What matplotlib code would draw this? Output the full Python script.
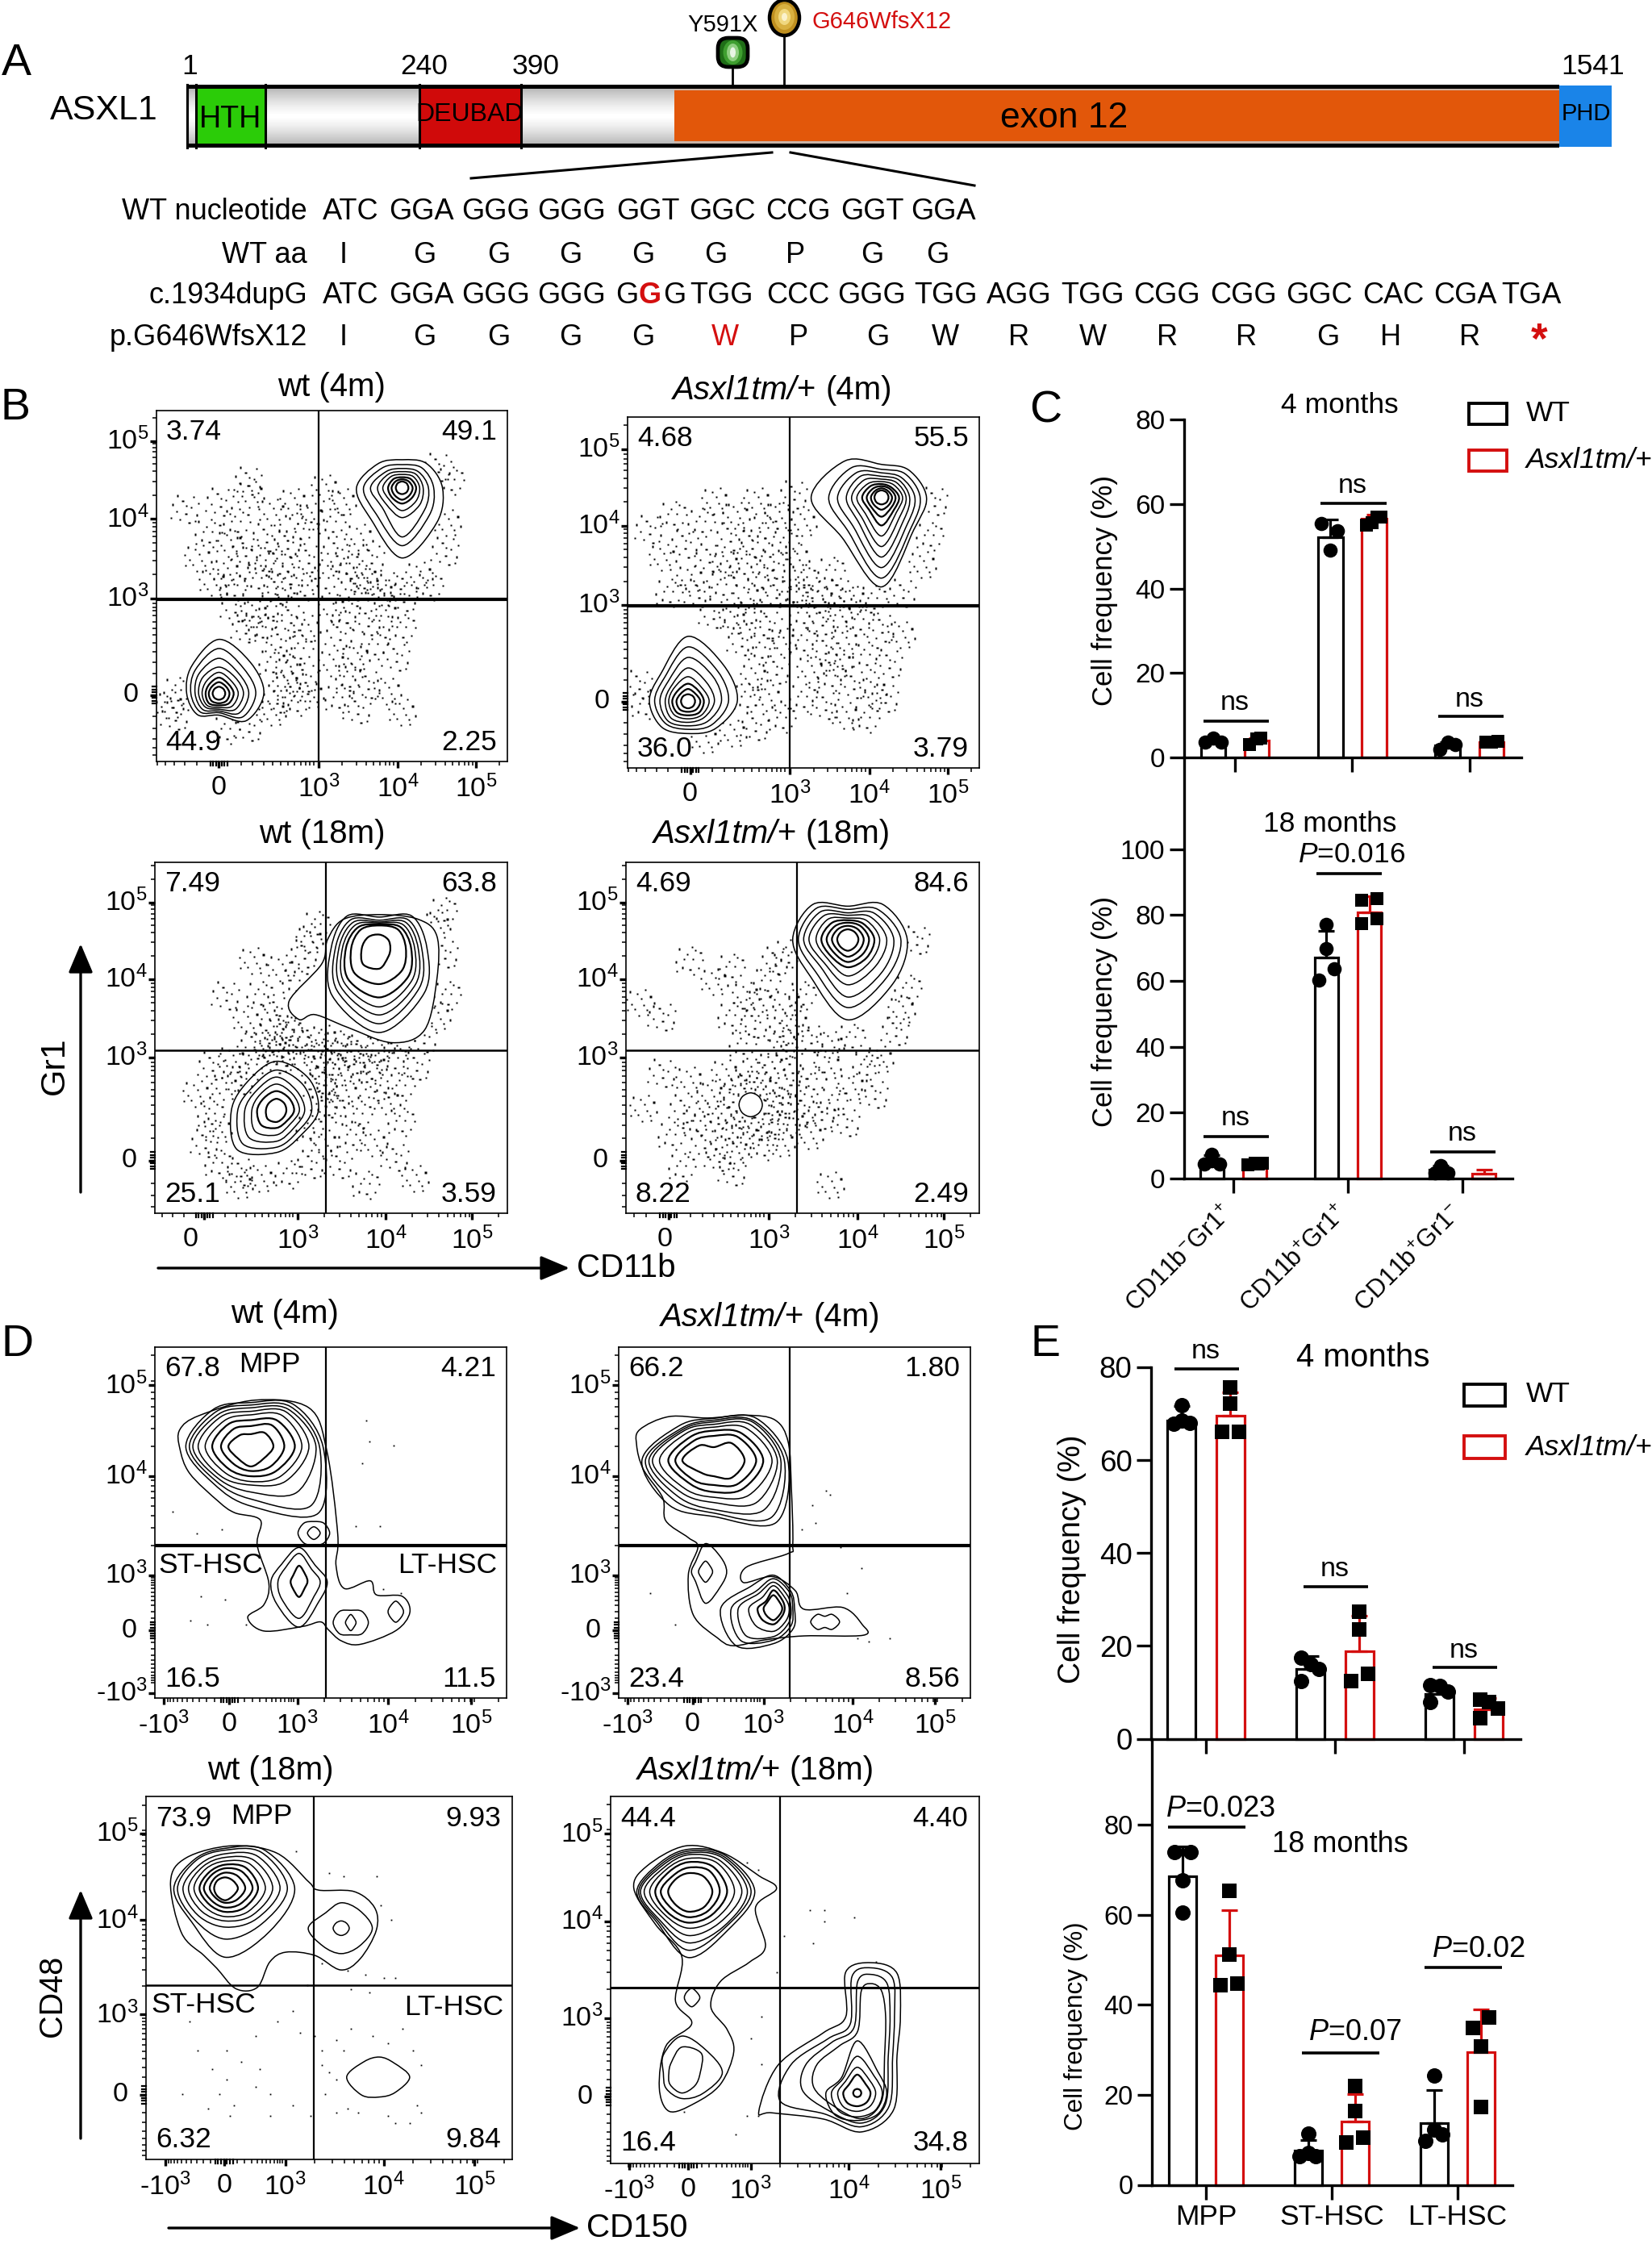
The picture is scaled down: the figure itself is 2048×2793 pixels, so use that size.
import numpy as np
import matplotlib
matplotlib.use('Agg')
import matplotlib.pyplot as plt
from matplotlib.path import Path
from matplotlib.patches import PathPatch, Rectangle, Ellipse, FancyBboxPatch

plt.rcParams['font.family'] = ['Liberation Sans', 'DejaVu Sans']
plt.rcParams['mathtext.fontset'] = 'custom'
plt.rcParams['mathtext.rm'] = 'Liberation Sans'
plt.rcParams['mathtext.it'] = 'Liberation Sans:italic'
plt.rcParams['mathtext.default'] = 'regular'

W, H = 2048, 2793
RED = '#d40f0f'
ASXL = 'Asxl1tm/+'

# ---- panel A text
ROW1 = ['ATC', 'GGA', 'GGG', 'GGG', 'GGT', 'GGC', 'CCG', 'GGT', 'GGA']
ROW1_X = [435, 522, 614, 709, 803, 895, 989, 1081, 1169]
ROW2 = ['I', 'G', 'G', 'G', 'G', 'G', 'P', 'G', 'G']
ROW2_X = [426, 526, 618, 707, 797, 887, 986, 1081, 1162]
ROW3 = ['ATC', 'GGA', 'GGG', 'GGG', 'G', 'G', 'G', 'TGG', 'CCC', 'GGG', 'TGG', 'AGG', 'TGG', 'CGG', 'CGG', 'GGC', 'CAC', 'CGA', 'TGA']
ROW3_X = [435, 522, 614, 709, 777, 806, 836, 895, 989, 1081, 1173, 1263, 1355, 1446, 1541, 1635, 1727, 1816, 1898]
ROW4 = ['I', 'G', 'G', 'G', 'G', 'W', 'P', 'G', 'W', 'R', 'W', 'R', 'R', 'G', 'H', 'R', '*']
ROW4_X = [426, 526, 618, 707, 797, 899, 990, 1088, 1172, 1263, 1355, 1447, 1545, 1646, 1724, 1822, 1908]
ROW_NAMES = ['WT nucleotide', 'WT aa', 'c.1934dupG', 'p.G646WfsX12']

# ---- panels C and E: means, upper error ends, points and their x offsets
C4_WT = [4.0, 52.2, 2.9]
C4_WT_ERR = [4.6, 56.3, 3.6]
C4_WT_PTS = [[3.6, 4.6, 3.6], [55.4, 53.6, 49.1], [2.0, 3.6, 3.1]]
C4_WT_DX = [[-.07, 0, .07], [-.077, .063, 0], [-.066, 0, .063]]
C4_MUT = [4.0, 56.5, 3.6]
C4_MUT_ERR = [4.6, 57.5, 3.9]
C4_MUT_PTS = [[3.1, 4.6, 4.3], [54.9, 55.5, 56.9, 56.9], [3.6, 3.6, 3.8]]
C4_MUT_DX = [[-.06, .03, 0], [-.07, -.02, .02, .06], [-.05, 0, .056]]

C18_WT = [5.3, 67.2, 2.6]
C18_WT_ERR = [7.2, 75.3, 3.8]
C18_WT_PTS = [[4.3, 7.4, 4.3, 5.4], [77.3, 69.8, 63.8, 60.3], [1.8, 3.8, 1.8, 2.0]]
C18_WT_DX = [[-.065, 0, .07, 0], [0, 0, .068, -.068], [-.054, 0, .06, 0]]
C18_MUT = [4.4, 80.9, 1.5]
C18_MUT_ERR = [4.7, 85.8, 2.6]
C18_MUT_PTS = [[4.1, 4.6, 4.6, 4.3], [84.5, 85.0, 77.5, 79.0], []]
C18_MUT_DX = [[-.06, 0, .065, .03], [-.068, .068, -.068, .068], []]
C_CATS = ['CD11b$^{-}$Gr1$^{+}$', 'CD11b$^{+}$Gr1$^{+}$', 'CD11b$^{+}$Gr1$^{-}$']

E4_WT = [68.6, 15.0, 9.7]
E4_WT_ERR = [71.6, 17.8, 11.5]
E4_WT_PTS = [[67.9, 68.0, 71.9, 68.6], [17.5, 16.0, 15.1, 12.4], [11.6, 11.3, 10.1, 7.9]]
E4_WT_DX = [[-.06, .067, 0, 0], [-.07, 0, .064, -.07], [-.07, 0, .067, -.07]]
E4_MUT = [69.5, 18.8, 6.3]
E4_MUT_ERR = [74.7, 26.5, 8.7]
E4_MUT_PTS = [[75.7, 72.1, 66.1, 66.1], [27.3, 23.5, 12.5, 13.9], [8.5, 7.9, 6.5, 4.4]]
E4_MUT_DX = [[0, 0, -.067, .067], [0, 0, -.064, .067], [-.064, .006, .07, -.064]]

E18_WT = [68.6, 7.7, 13.7]
E18_WT_ERR = [75.2, 10.0, 21.0]
E18_WT_PTS = [[73.9, 73.9, 67.7, 60.4], [11.3, 6.3, 6.4, 7.1], [24.3, 9.7, 12.2, 11.2]]
E18_WT_DX = [[-.065, .065, 0, 0], [0, -.069, .06, 0], [0, -.069, 0, .065]]
E18_MUT = [50.9, 14.0, 29.4]
E18_MUT_ERR = [61.1, 20.2, 39.0]
E18_MUT_PTS = [[65.3, 51.1, 44.4, 44.8], [21.9, 16.4, 9.4, 10.4], [34.8, 37.1, 30.8, 17.3]]
E18_MUT_DX = [[0, 0, -.069, .062], [0, 0, -.069, .065], [-.065, .065, 0, 0]]
E_CATS = ['MPP', 'ST-HSC', 'LT-HSC']

# ---- flow plots: everything below is in channel units, 0-100 across each plot.
# Contours read by eye: (centre, rows of radii at 0,45,...,315 degrees)
B1_POPS = [((70, 78), [[11.5, 9.8, 8, 9.7, 13, 12.6, 20, 14], [9, 8, 6.6, 8, 11, 10.5, 16.5, 11],
                       [7.5, 6.5, 5.5, 6.5, 9, 8, 14, 9], [6, 5.5, 4.6, 5.5, 7, 6.5, 8.5, 7],
                       [5, 4.5, 3.8, 4.5, 5.5, 5, 6.5, 5.5], [4, 3.5, 3, 3.5, 4, 4, 4.5, 4],
                       [3, 2.6, 2.4, 2.6, 3, 3, 3.4, 3], [1.8, 1.8, 1.8, 1.8, 1.8, 1.8, 1.8, 1.8]]),
           ((17.8, 19.4), [[12.8, 12.6, 15.4, 11, 9.2, 8.6, 6.2, 11], [10.5, 10, 12.8, 9.5, 8, 7.5, 5.5, 9.5],
                           [8.5, 8, 10, 8, 6.8, 6.5, 5, 8], [7, 6.5, 7.5, 6.5, 5.8, 5.5, 4.5, 6.5],
                           [5.5, 5, 6, 5, 4.8, 4.8, 4, 5.2], [4.2, 3.8, 4.5, 3.8, 3.8, 4, 3.4, 4],
                           [3, 2.8, 3.2, 2.8, 2.9, 3, 2.8, 3], [1.8, 1.8, 1.9, 1.8, 1.8, 1.8, 1.8, 1.8]])]
B2_POPS = [((72.2, 77.1), [[12.8, 11, 9.4, 14.7, 20, 16, 25.5, 13], [11, 9.5, 8, 12, 15, 13.5, 23, 12],
                           [9.5, 8, 7, 10, 12.5, 11.5, 20, 10.5], [8, 7, 6, 8.5, 10, 9.5, 17, 9],
                           [7, 6, 5.2, 7, 8.5, 8, 14, 7.5], [6, 5, 4.5, 5.5, 7, 6.5, 11, 6],
                           [5, 4, 3.8, 4.5, 5.5, 5, 8, 5], [4, 3.4, 3.2, 3.5, 4.2, 4, 5.5, 4],
                           [3, 2.6, 2.6, 2.6, 3, 3, 3.5, 3], [2, 2, 2, 2, 2, 2, 2, 2]]),
           ((17.2, 19), [[14, 14.4, 18.5, 11, 11, 10.5, 9.2, 11], [11.5, 12, 15.5, 9.5, 9.5, 9, 8, 9.5],
                         [9.5, 10, 12.5, 8, 8, 8, 7, 8], [7.5, 7.5, 9.5, 6.5, 6.5, 6.8, 6, 6.5],
                         [6, 5.5, 7, 5.5, 5.5, 5.5, 5, 5.5], [4.5, 4.2, 5, 4.2, 4.5, 4.5, 4, 4.5],
                         [3.5, 3, 3.5, 3, 3.3, 3.3, 3, 3.3], [2, 2, 2, 2, 2, 2, 2, 2]])]
B3_BLOBS = [[(47.3, 71), (38.1, 60.5), (40.9, 55.2), (45.4, 56.6), (54.6, 53), (67.3, 48.6), (76.5, 52.2),
             (80, 66.7), (80, 79), (74.6, 83.8), (63.7, 85.1), (53.6, 83.8), (49, 78)]]
B3_POPS = [((63.7, 75.5), [[13.5, 13, 8.9, 13, 13.7, 19, 24, 18], [12, 11.5, 8, 11.5, 12.5, 17, 21.5, 16],
                           [11, 10.5, 7.5, 10.5, 11.5, 15.5, 19, 14.5], [10, 9.5, 7.2, 9.5, 10.5, 14, 16.7, 13],
                           [9, 8.5, 6.8, 8.5, 9.5, 12.5, 14, 11.5], [7.5, 7.5, 6.5, 7.5, 8, 10, 10.2, 9],
                           [3.1, 3.5, 3.9, 4.5, 5, 6.5, 5.8, 3.5]]),
           ((34.5, 29.3), [[11.9, 12.9, 14, 11.6, 12.8, 15.8, 12, 9.9], [10, 10.5, 11.5, 9.5, 11, 13.5, 10.5, 8.5],
                           [8, 8, 9.5, 8, 9, 11, 8.8, 7], [6.5, 6.5, 7.5, 6.5, 7, 8.5, 7, 5.5],
                           [5, 5, 5.5, 5, 5.5, 6, 5, 4.2], [2.8, 3, 3.3, 3, 3, 3.5, 3.3, 2.8]])]
B4_POPS = [((62.8, 78.1), [[16.8, 14, 9.4, 14, 15.6, 15, 23, 18], [15, 12, 8.5, 12.5, 14, 13, 19.5, 15.5],
                           [13, 10.5, 7.5, 11, 12.5, 11, 16.5, 13.5], [11, 9, 6.8, 9.5, 11, 9.5, 13, 11],
                           [9, 7.5, 6, 8, 9, 8, 10.5, 9], [7.5, 6.2, 5.4, 6.5, 7.5, 6.8, 8, 7.5],
                           [6, 5.2, 4.7, 5.2, 6, 5.5, 6.5, 6], [4.5, 4, 3.8, 4, 4.5, 4.2, 5, 4.5],
                           [3, 2.8, 2.8, 2.8, 3, 3, 3.3, 3]]),
           ((35.3, 30.9), [[3.3, 3.3, 3.4, 3.3, 3.3, 3.3, 3.4, 3.3]])]
D1_BLOBS = [[(7.1, 76.5), (12.6, 80.5), (28.5, 84.9), (43.8, 82.7), (48.9, 70.4), (52, 46.6), (51.5, 37.8), (53.9, 31.2),
             (61.2, 33.4), (63, 29.4), (70.3, 29), (72.5, 24.4), (68.5, 19.2), (58.4, 15.3), (53, 16.3), (49.3, 19.5),
             (47.1, 21.7), (42, 20.4), (31, 19.1), (26.4, 23), (31, 26.6), (32.4, 32.8), (29.1, 43.6), (30, 50.7),
             (22.7, 52.8), (18.1, 56), (9.9, 64), (7.1, 71.1)]]
D1_POPS = [((27.3, 71.7), [[20.5, 17, 12.5, 15, 18.5, 15, 17, 27], [19.5, 16, 11.8, 14, 17.5, 14, 15, 24],
                           [18.5, 15, 11, 13, 16.5, 13, 13, 18.5], [16.5, 14, 10, 12, 15, 12, 11, 14],
                           [14.5, 12.5, 9, 10.5, 13, 10.5, 10, 12], [12.5, 10.5, 7.5, 9, 11, 9, 8.5, 10],
                           [9.5, 8.5, 5.8, 7, 8.5, 7, 7, 8], [6.4, 5.5, 3.5, 4.5, 6.4, 5, 5.7, 5]]),
           ((45.2, 47), [[4.5, 4, 3.3, 4, 4.5, 4, 3.5, 4], [1.8, 1.6, 1.8, 1.6, 1.8, 1.6, 1.8, 1.6]]),
           ((41, 33.2), [[8, 6.5, 9.7, 7, 8, 9, 13, 8], [6, 5, 8, 5.5, 6, 7, 10.5, 6],
                         [2.4, 2.6, 4.5, 2.4, 2.4, 2.6, 4.4, 2.4]]),
           ((55.7, 21.5), [[5, 4.5, 3.5, 4.5, 5, 4.5, 3.5, 4.5], [1.5, 1.5, 2.3, 1.5, 1.5, 1.5, 2.3, 1.5]]),
           ((68.5, 24.6), [[2.2, 2.2, 3, 2.2, 2.2, 2.2, 3, 2.2]])]
D2_BLOBS = [[(6, 76.5), (14.3, 80.2), (25.3, 79.8), (36.3, 80.6), (44.5, 79.2), (48.2, 72.9), (49.1, 59.8), (49.5, 43.9),
             (48.2, 41.2), (36.3, 37.3), (35.5, 32.9), (43.8, 34.6), (50.2, 30.6), (52.7, 25.3), (63.7, 25.8), (69.2, 21),
             (69.6, 17.9), (52.7, 17.7), (41.8, 16.6), (32.6, 14.9), (28, 17.2), (21.2, 23.7), (19.8, 35.1), (22.5, 43),
             (19.8, 45.7), (13.4, 50.5), (12.5, 57.1), (7, 65.2), (5.1, 72.1)]]
D2_POPS = [((27.1, 67.7), [[21, 17, 12, 14, 20.5, 18, 16, 25], [20, 16, 11.5, 13, 19.5, 16, 15, 23],
                           [19, 15.5, 11, 12.5, 18.5, 14.5, 14, 20], [18, 14.5, 10.3, 12, 17.5, 13, 12, 17],
                           [16.5, 13, 9.5, 11, 15.5, 11.5, 10.5, 14], [14, 11, 8.5, 9.5, 13, 9.5, 9, 11.5],
                           [12, 9.5, 7, 8, 11, 8, 7, 9.5], [8.7, 7, 3.8, 6, 9, 5, 4.5, 7]]),
           ((24.7, 36), [[6, 6, 8, 4, 4, 4, 9, 6], [2, 2, 3, 2, 2, 2, 3, 2]]),
           ((44, 25.5), [[6, 7, 9.5, 9, 15, 15, 10, 8], [5.5, 6.5, 8.5, 7, 12, 13, 9, 7],
                         [5, 5.5, 7.5, 6, 10, 11, 8, 6], [4.5, 4.5, 6.5, 4.5, 7, 7, 6.5, 5],
                         [3.2, 3.5, 5.2, 3, 4.5, 4.5, 4.5, 3.3], [2.5, 2.5, 3.8, 2.5, 2.8, 2.8, 3.3, 2.5]]),
           ((58.6, 21.7), [[4.2, 3, 1.6, 3, 4, 3, 1.6, 3]])]
D3_BLOBS = [[(6.7, 76.5), (11, 83.1), (23.4, 86.4), (35.7, 84.4), (44.5, 76.4), (47.1, 74.2), (56.8, 73.8), (62.4, 69.4),
             (62.9, 63.2), (58.5, 55.3), (53.2, 52.2), (46.1, 56.2), (38.2, 57.1), (33.8, 54.4), (30.4, 47.4), (24.6, 47),
             (19.3, 52.7), (15.8, 56.2), (9.7, 62.4)]]
D3_POPS = [((21.6, 74.7), [[19, 15, 11, 11.5, 14, 13, 19, 17], [17, 14, 10.5, 11, 13, 12, 14, 14],
                           [15, 12.5, 9.5, 9.5, 11.5, 10.5, 10.7, 12], [13, 11, 8.5, 8.5, 10, 9, 9, 10.5],
                           [11, 9.5, 7.5, 7.5, 8.5, 7.5, 7.8, 9], [9, 8, 6.5, 6.2, 7, 6.2, 6.5, 7.5],
                           [7.5, 6.5, 5.5, 5.2, 5.8, 5, 5.3, 6], [5.5, 4.8, 4.3, 4, 4.2, 3.7, 4, 4.5],
                           [3.5, 3, 3, 3, 3, 3, 3.3, 3]]),
           ((53.3, 63.7), [[8.5, 7, 7, 6, 9, 7, 7, 7], [2.2, 2, 2, 2, 2.2, 2, 2, 2]]),
           ((63.8, 22.7), [[8.2, 5.5, 5.5, 6, 9, 7, 5.5, 6]])]
D4_BLOBS = [[(6.3, 74.9), (9.8, 81), (20.2, 86.5), (30.7, 84.5), (40.2, 78.4), (45, 74.9), (39.3, 69.7), (42, 59.2),
             (37.6, 54.8), (29.8, 49.6), (27.2, 42.6), (31.6, 36.5), (33.4, 30.4), (29.8, 21.6), (22.8, 16.4), (15.9, 14.2),
             (13.2, 20.7), (15, 32), (22, 38.1), (17.6, 44.2), (19.3, 56.4), (12.2, 65.1)],
            [(40.2, 14.2), (45.5, 26.9), (57.7, 35.6), (63.8, 40), (63.8, 52.2), (70.7, 54.7), (77.7, 51.8), (78.6, 40),
             (77.7, 29.5), (76.8, 14.7), (68.1, 8.6), (57.7, 12.1), (43.7, 13.8)],
            [(46, 17), (49, 27), (59, 34), (65, 38), (65.5, 51), (70.7, 53.3), (76.5, 50.5), (77, 40), (76.5, 29), (75.5, 15.5), (68, 10), (58, 13.5)],
            [(52, 20), (53, 27), (60, 33), (66, 37), (67, 49.5), (70.7, 51.5), (75, 49), (75.8, 40), (75.3, 29), (74.5, 16), (68, 11), (59, 14.5)],
            [(55, 21), (56, 27), (62, 32), (67, 36), (68, 47), (70.7, 49), (73.5, 47), (74.6, 40), (74.3, 29), (73.5, 17), (68, 12.2), (60, 16)]]
D4_POPS = [((21.1, 74.1), [[18, 14, 11.5, 11, 14, 12, 18, 15], [17, 13.5, 11, 10.5, 13.5, 11.5, 16, 14],
                           [16, 13, 10.5, 10, 13, 11, 14, 13.5], [14.5, 12, 10, 9.3, 12, 10, 12, 12],
                           [12.5, 11, 9, 8.5, 10.5, 9, 10, 10.5], [10.5, 9.5, 8, 7.5, 9, 8, 8.5, 9],
                           [8.5, 8, 6.5, 6, 7.5, 6.5, 7, 7.5], [6.5, 5.8, 5, 4.8, 5.5, 5, 5.5, 6]]),
           ((22, 45.2), [[2.2, 2, 2.5, 2, 2, 2, 2.5, 2]]),
           ((19.3, 24.7), [[11, 9, 10, 7, 5, 6, 7, 8], [5, 7.5, 7, 4, 3.5, 4.5, 5.5, 5]]),
           ((66.9, 19.2), [[8, 8, 14.2, 6, 8.5, 8.5, 7.5, 8], [6.8, 6.5, 10, 5.5, 7, 7, 6.5, 6.8],
                           [5, 4.8, 7, 4.5, 5.3, 5.3, 5, 5], [3.6, 3.3, 5, 3.2, 3.8, 3.8, 3.6, 3.6],
                           [1.1, 1.1, 1.1, 1.1, 1.1, 1.1, 1.1, 1.1]])]

# Event clouds in B: a hand-read sample, each point is drawn as a small clump of specks
B1_CLOUD = [(8, 72), (12, 58), (15, 65), (18, 74), (20, 54), (23, 68), (25, 60), (27, 76), (29, 52), (31, 64), (33, 71), (35, 56),
            (37, 62), (39, 74), (41, 66), (43, 58), (44, 70), (22, 50), (34, 49), (16, 51), (42, 50), (26, 80), (21, 62), (30, 57),
            (38, 52), (48, 78), (50, 68), (51, 60), (53, 74), (54, 56), (56, 50), (58, 64), (59, 52), (61, 58), (64, 48), (67, 50),
            (70, 47), (75, 53), (78, 50), (82, 60), (83, 68), (84, 80), (80, 84), (60, 50), (48, 52), (22, 44), (28, 42), (33, 44),
            (38, 41), (43, 38), (41, 32), (35, 34), (38, 26), (33, 28), (42, 24), (37, 22), (30, 38), (25, 38), (44, 19), (40, 17),
            (34, 18), (4, 16), (6, 20), (5, 13), (33, 14), (20, 9), (26, 10), (50, 44), (54, 42), (60, 40), (65, 42), (70, 38),
            (52, 36), (57, 30), (62, 33), (68, 30), (50, 28), (55, 24), (60, 22), (66, 20), (52, 18), (57, 15), (70, 14)]
B2_CLOUD = [(6, 68), (10, 60), (13, 72), (16, 64), (18, 54), (21, 70), (23, 60), (25, 76), (27, 52), (29, 66), (31, 72), (33, 58),
            (35, 64), (37, 76), (39, 68), (41, 58), (43, 72), (45, 64), (20, 50), (34, 49), (12, 50), (42, 50), (28, 58), (38, 54),
            (47, 78), (48, 60), (50, 54), (52, 50), (55, 48), (58, 56), (60, 50), (64, 48), (70, 48), (78, 50), (84, 58), (86, 66),
            (87, 76), (50, 70), (47, 50), (24, 44), (30, 42), (35, 44), (40, 41), (44, 36), (38, 34), (42, 28), (36, 26), (34, 20),
            (32, 36), (40, 20), (44, 14), (36, 12), (30, 10), (5, 18), (3, 24), (22, 8), (50, 44), (55, 42), (60, 44), (66, 42),
            (72, 40), (78, 38), (50, 36), (56, 34), (62, 36), (68, 32), (74, 30), (52, 28), (58, 26), (64, 24), (70, 22), (50, 20),
            (56, 18), (62, 15), (68, 14), (73, 20), (60, 30)]
B3_CLOUD = [(20, 62), (28, 72), (30, 62), (34, 58), (36, 70), (38, 52), (32, 50), (26, 55), (40, 66), (42, 74), (44, 78), (46, 82),
            (28, 48), (34, 47), (40, 50), (44, 48), (48, 50), (52, 48), (58, 47), (64, 47), (70, 49), (76, 50), (80, 56), (83, 62),
            (82, 74), (80, 82), (82, 86), (16, 42), (22, 44), (28, 42), (34, 44), (42, 43), (50, 42), (56, 44), (62, 42), (68, 44),
            (74, 42), (12, 34), (16, 28), (14, 20), (20, 36), (18, 14), (24, 12), (30, 10), (38, 11), (44, 14), (48, 20), (50, 30),
            (48, 38), (54, 34), (58, 28), (62, 36), (66, 32), (56, 22), (52, 14), (62, 20), (70, 26), (68, 16), (74, 10), (70, 36),
            (46, 36), (24, 8), (60, 8), (36, 46), (46, 45), (54, 46), (48, 32), (52, 40), (60, 40), (24, 38), (18, 24), (44, 24), (36, 54)]
B4_CLOUD = [(10, 40), (5, 30), (13, 22), (16, 30), (18, 38), (20, 26), (22, 20), (24, 34), (26, 28), (26, 16), (28, 40), (29, 24),
            (30, 33), (31, 18), (32, 27), (33, 37), (34, 22), (36, 40), (37, 25), (38, 36), (39, 19), (40, 30), (41, 42), (42, 25),
            (43, 35), (44, 20), (45, 31), (46, 44), (47, 26), (48, 36), (50, 30), (52, 22), (53, 38), (55, 28), (57, 42), (59, 32),
            (62, 26), (64, 36), (68, 42), (70, 34), (72, 44), (33, 48), (36, 54), (38, 60), (40, 66), (42, 72), (34, 62), (30, 56),
            (44, 52), (46, 60), (46, 74), (44, 48), (48, 54), (50, 62), (52, 50), (58, 48), (64, 50), (76, 52), (78, 58), (80, 64),
            (82, 78), (25, 66), (18, 72), (10, 56), (4, 60), (16, 13), (30, 12), (58, 8), (30, 70)]
# sparse single events in D
D1_DOTS = [(60, 79), (61, 73), (68, 72), (59, 67), (5, 53), (19, 48), (12, 47), (57, 49), (64, 49), (13, 29), (20, 28), (10, 22), (15, 21), (26, 21), (65, 31), (70, 30)]
D2_DOTS = [(59, 59), (60, 58), (55, 55), (63, 43), (69, 37), (65, 30), (9, 30), (16, 21), (68, 17), (71, 16), (77, 17), (52, 48), (56, 50)]
D3_DOTS = [(41, 85), (50, 79), (54, 78), (63, 78), (64, 70), (67, 66), (45, 57), (48, 54), (55, 52), (60, 51), (65, 50), (68, 50), (44, 48), (56, 47), (61, 46),
           (40, 41), (36, 38), (12, 38), (42, 35), (46, 34), (30, 34), (14, 30), (22, 30), (48, 30), (52, 33), (62, 34), (66, 32), (56, 36), (73, 30), (75, 26),
           (26, 27), (31, 25), (18, 25), (22, 22), (30, 20), (34, 18), (20, 18), (10, 18), (24, 15), (17, 14), (40, 15), (34, 12), (23, 12), (45, 12), (49, 18),
           (50, 24), (52, 22), (48, 26), (55, 14), (58, 13), (66, 12), (74, 15), (75, 13), (68, 10), (72, 10), (52, 13), (54, 30), (70, 36)]
D4_DOTS = [(40, 80), (37, 82), (54, 69), (58, 69), (58, 66), (66, 67), (47, 62), (55, 60), (45, 52), (72, 55), (41, 40), (28, 38), (38, 34), (41, 27), (20, 14), (37, 13), (40, 13), (34, 8), (28, 30)]

# tick positions: zero first (or minus decade, zero), then the decades
B_XT = [17.8, 46.2, 68.7, 91]
FLOW_LABELS = ['0', '$10^{3}$', '$10^{4}$', '$10^{5}$']
NEG_LABELS = ['-$10^{3}$'] + FLOW_LABELS


def closed_spline(pts):
    # closed Catmull-Rom through the read points, only to round the outline
    pts = np.asarray(pts, float)
    prev_p, next_p, next2 = np.roll(pts, 1, 0), np.roll(pts, -1, 0), np.roll(pts, -2, 0)
    c1 = pts + (next_p - prev_p) / 6
    c2 = next_p - (next2 - pts) / 6
    verts, codes = [pts[0]], [Path.MOVETO]
    for a, b, c in zip(c1, c2, next_p):
        verts += [a, b, c]
        codes += [Path.CURVE4] * 3
    return Path(verts, codes)


def ring_points(center, radii):
    ang = np.radians(np.arange(0, 360, 45))
    r = np.array(radii)
    return np.c_[center[0] + r * np.cos(ang), center[1] + r * np.sin(ang)]


# clumps of specks used as markers for the event clouds in B
def speck_marker(offsets):
    verts, codes = [], []
    s = 0.062
    for ox, oy in offsets:
        verts += [(ox - s, oy - s), (ox + s, oy - s), (ox + s, oy + s), (ox - s, oy + s), (ox - s, oy - s)]
        codes += [Path.MOVETO, Path.LINETO, Path.LINETO, Path.LINETO, Path.CLOSEPOLY]
    verts += [(-1, -1), (-1, -1), (1, 1), (1, 1), (1, 1)]
    codes += [Path.MOVETO, Path.LINETO, Path.MOVETO, Path.LINETO, Path.CLOSEPOLY]
    return Path(verts, codes)


SPECKS = [speck_marker([(-.82, .31), (-.33, -.71), (.12, .24), (.63, .84), (.86, -.42), (-.52, .93), (.31, -.94), (-.94, -.62),
                        (.47, .11), (-.14, .58), (-.58, -.17), (.74, -.83), (.09, -.33), (.95, .41)]),
          speck_marker([(-.91, -.53), (-.22, .64), (.23, -.18), (.71, .43), (.52, -.84), (-.63, -.11), (-.13, -.92), (-.73, .77),
                        (.34, .91), (.92, -.26), (.06, .28), (-.38, -.44), (.48, -.51), (-.97, .21)]),
          speck_marker([(-.72, .83), (-.41, .12), (.03, -.62), (.42, .72), (.93, .04), (-.91, -.74), (.61, -.52), (-.16, .44),
                        (.18, .96), (-.52, -.49), (.27, -.97), (.77, .56), (.21, .13), (-.96, -.09)])]


def minor_list(pos):
    out = []
    zero = pos[0] if len(pos) == 4 else pos[1]
    dec = pos[-3:]
    gap = dec[1] - dec[0]
    for d in dec:
        for m in range(2, 10):
            p = d + gap * np.log10(m)
            if p < 100:
                out.append(p)
    span = dec[0] - zero
    for f in [.22, .34, .45, .54, .62, .69, .76, .82, .87, .91, .95]:
        out.append(zero + span * f)
        if zero - span * f > 0:
            out.append(zero - span * f)
    return out


def title_text(x, y, title):
    # italic genotype followed by the upright age, centred as one line
    if title.startswith(ASXL):
        rend = fig.canvas.get_renderer()
        a = bg.text(0, y, ASXL, ha='left', va='center', fontsize=29, style='italic')
        b = bg.text(0, y, title[len(ASXL):].strip(), ha='left', va='center', fontsize=29)
        wa, wb = a.get_window_extent(rend).width, b.get_window_extent(rend).width
        a.set_x(x - (wa + wb + 11) / 2)
        b.set_x(x - (wa + wb + 11) / 2 + wa + 11)
    else:
        bg.text(x, y, title, ha='center', va='center', fontsize=29)


def flow_panel(box, title, title_x, title_y, xt, yt, xlab, ylab, v, h, h_lw, corners, pops, blobs=(),
               cloud=(), dots=(), tags=(), zero_label=None, ring_lw=1.1):
    l, r, t, b = box
    ax = fig.add_axes([l / W, 1 - b / H, (r - l) / W, (b - t) / H])
    ax.set_xlim(0, 100)
    ax.set_ylim(0, 100)
    for s in ax.spines.values():
        s.set_linewidth(1.2)
    ax.set_xticks(xt)
    ax.set_yticks(yt)
    ax.set_xticklabels([])
    ax.set_yticklabels([])
    ax.tick_params(length=6, width=2.4)
    ax.set_xticks(minor_list(xt), minor=True)
    ax.set_yticks(minor_list(yt), minor=True)
    ax.tick_params(which='minor', length=3.5, width=1.1)
    # thick block of ticks around zero
    zx = xt[0] if len(xt) == 4 else xt[1]
    zy = yt[0] if len(yt) == 4 else yt[1]
    for off in [-2.4, -1.6, -.8, 0, .8, 1.6, 2.4]:
        ax.plot([zx + off] * 2, [0, -1.2], color='k', lw=1.6, clip_on=False)
        ax.plot([0, -1.2], [zy + off] * 2, color='k', lw=1.6, clip_on=False)
    for i, (px, lab) in enumerate(zip(xt, xlab)):
        if lab == '0' and zero_label is not None:
            px = zero_label
        ax.annotate(lab, (px, 0), xycoords=('data', 'axes fraction'), xytext=(0, -12), textcoords='offset points',
                    ha='center', va='top', fontsize=24.5)
    for py, lab in zip(yt, ylab):
        off = -16 if lab == '0' else -7
        ax.annotate(lab, (0, py), xycoords=('axes fraction', 'data'), xytext=(off, 0), textcoords='offset points',
                    ha='right', va='center', fontsize=24.5)
    for i, pts in enumerate(cloud):
        ax.plot(pts[0], pts[1], ls='', marker=SPECKS[i % 3], ms=26, mfc='k', mec='none', zorder=1)
    if len(dots):
        ax.plot([d[0] for d in dots], [d[1] for d in dots], ls='', marker='s', ms=1.3, mfc='k', mec='none', zorder=1)
    for bl in blobs:
        ax.add_patch(PathPatch(closed_spline(bl), fc='white', ec='k', lw=ring_lw, zorder=2))
    for center, rows in pops:
        for j, row in enumerate(rows):
            fc = 'white' if (j == 0 and not blobs) or j == len(rows) - 1 else 'none'
            ax.add_patch(PathPatch(closed_spline(ring_points(center, row)), fc=fc, ec='k',
                                   lw=ring_lw + (.5 if j > len(rows) / 2 else 0), zorder=2 + j * .01))
    ax.axvline(v, color='k', lw=1.6, zorder=3)
    ax.axhline(h, color='k', lw=h_lw, zorder=3)
    xs = [2.7, 97, 2.7, 97]
    ys = [94, 94, 5.5, 5.5]
    has = ['left', 'right', 'left', 'right']
    for c, x, y, ha in zip(corners, xs, ys, has):
        ax.text(x, y, c, ha=ha, va='center', fontsize=25.5, zorder=4)
    for s, x, y, ha in tags:
        ax.text(x, y, s, ha=ha, va='center', fontsize=25.5, zorder=4)
    title_text(title_x, title_y, title)
    return ax


def bar_panel(box, ymax, yticks, spacing_dx, wt, wt_err, wt_pts, wt_dx, mut, mut_err, mut_pts, mut_dx,
              xlim, bw, ms, tick_fs, cats=None, cat_fs=25.5, cat_rot=0):
    l, r, t, b = box
    ax = fig.add_axes([l / W, 1 - b / H, (r - l) / W, (b - t) / H], facecolor='none')
    ax.set_xlim(*xlim)
    ax.set_ylim(0, ymax)
    x = np.arange(3)
    for color, xs, vals, errs, pts, dxs, marker, m in [
            ('k', x - spacing_dx, wt, wt_err, wt_pts, wt_dx, 'o', ms + .7),
            (RED, x + spacing_dx, mut, mut_err, mut_pts, mut_dx, 's', ms)]:
        ax.bar(xs, vals, bw, fc='none', ec=color, lw=2.3, clip_on=False, zorder=2)
        for xi, val, err in zip(xs, vals, errs):
            ax.errorbar(xi, val, yerr=[[0], [err - val]], color=color, capsize=7, elinewidth=2.3, capthick=2.3, zorder=2)
        for xi, p, dx in zip(xs, pts, dxs):
            ax.plot(xi + np.array(dx), p, ls='', marker=marker, ms=m, mfc='k', mec='k', mew=0, clip_on=False, zorder=3)
    for s in ['top', 'right']:
        ax.spines[s].set_visible(False)
    ax.spines['left'].set_linewidth(2.4)
    ax.spines['bottom'].set_linewidth(2.4)
    ax.set_yticks(yticks)
    ax.set_xticks(x)
    ax.tick_params(length=13, width=2.4, labelsize=tick_fs, pad=4)
    if cats is None:
        ax.set_xticklabels([])
    elif cat_rot:
        ax.set_xticklabels([])
        for xi, c in zip(x, cats):
            ax.annotate(c, (xi, 0), xycoords=('data', 'axes fraction'), xytext=(-11, -20), textcoords='offset points',
                        rotation=cat_rot, ha='right', va='top', rotation_mode='anchor', fontsize=cat_fs)
    else:
        ax.set_xticklabels(cats, fontsize=cat_fs)
    return ax


def sig(ax, x0, x1, y, lab, lx, ly, fs=24.5):
    ax.plot([x0, x1], [y, y], color='k', lw=2.6, clip_on=False, solid_capstyle='butt')
    ax.text(lx, ly, lab, ha='center', va='center', fontsize=fs, clip_on=False)


def legend_box(x0, x1, y0, y1, color, name, ty, fs=25.5, style='normal'):
    bg.add_patch(Rectangle((x0, y0), x1 - x0, y1 - y0, fc='none', ec=color, lw=2.8))
    bg.text(1892, ty, name, ha='left', va='center', fontsize=fs, style=style)


def px_text(x, y, s, fs=26, **kw):
    kw.setdefault('ha', 'center')
    kw.setdefault('va', 'center')
    bg.text(x, y, s, fontsize=fs, **kw)


def px_arrow(p0, p1):
    bg.annotate('', xy=p1, xytext=p0, arrowprops=dict(arrowstyle='-|>,head_length=1.3,head_width=.55', mutation_scale=17,
                                                       lw=2.4, color='k', shrinkA=0, shrinkB=0))


fig = plt.figure(figsize=(W / 100, H / 100), dpi=100)
bg = fig.add_axes([0, 0, 1, 1])
bg.set_xlim(0, W)
bg.set_ylim(H, 0)
bg.axis('off')

# ---- panel A
grad = (1 - 0.27 * np.abs(np.linspace(-1, 1, 64)) ** 1.4)[:, None]
bg.imshow(grad, extent=(231, 836, 178, 110), cmap='gray', vmin=0, vmax=1, aspect='auto', zorder=1)
bg.set_xlim(0, W)
bg.set_ylim(H, 0)
for x0, x1, y0, y1, col in [(243, 329, 110, 178, '#2bcc08'), (520, 646, 110, 178, '#d00a0a'),
                            (836, 1933, 111, 175, '#e2570a'), (1933, 1998, 106, 182, '#1a84e8')]:
    bg.add_patch(Rectangle((x0, y0), x1 - x0, y1 - y0, fc=col, ec='none', zorder=2))
bg.add_patch(Rectangle((836, 175), 1097, 3, fc='#c9b3a6', ec='none', zorder=2))
bg.add_patch(Rectangle((836, 110), 1097, 1.5, fc='#c9b3a6', ec='none', zorder=2))
for y0, y1 in [(105, 110), (178, 183)]:
    bg.add_patch(Rectangle((231, y0), 1702, y1 - y0, fc='k', ec='none', zorder=3))
for xv in [232, 243, 329, 520, 646]:
    bg.plot([xv, xv], [105, 183], color='k', lw=2.2, zorder=3)
bg.plot([908, 908], [85, 105], color='k', lw=2, zorder=1)
bg.plot([972, 972], [45, 105], color='k', lw=2, zorder=1)
bg.add_patch(FancyBboxPatch((890, 47), 37, 36, boxstyle='round,pad=0,rounding_size=13', fc='#1f6e17', ec='k', lw=3.4, zorder=4))
for wd, hg, col in [(24, 30, '#3f9f30'), (15, 22, '#8fcf80'), (7, 13, '#e8f5e4')]:
    bg.add_patch(Ellipse((908.5, 65), wd, hg, fc=col, ec='none', zorder=5))
bg.add_patch(Ellipse((972.5, 22), 37, 44, fc='#c09020', ec='k', lw=3.2, zorder=4))
for wd, hg, col in [(25, 32, '#d8b040'), (15, 20, '#f0d880'), (7, 10, '#fbf2cc')]:
    bg.add_patch(Ellipse((972.5, 21), wd, hg, fc=col, ec='none', zorder=5))
px_text(896, 31, 'Y591X', 21)
px_text(1006, 27, 'G646WfsX12', 21, ha='left', color=RED)
px_text(20, 79, 'A', 40)
px_text(129, 137, 'ASXL1', 31, zorder=6)
for xt_, lab in [(235, '1'), (526, '240'), (664, '390'), (1975, '1541')]:
    px_text(xt_, 83, lab, 25.5)
px_text(285, 148, 'HTH', 27, zorder=6)
px_text(582, 142, 'DEUBAD', 23, zorder=6)
px_text(1966, 141, 'PHD', 21, zorder=6)
px_text(1319, 146, 'exon 12', 32, zorder=6)
bg.plot([957, 584], [189, 221], color='k', lw=2.2)
bg.plot([980, 1208], [189, 230], color='k', lw=2.2)
ROW_Y = [262, 316, 367, 418]
for nm, y in zip(ROW_NAMES, ROW_Y):
    px_text(381, y, nm, 26, ha='right')
for words, xs, y in [(ROW1, ROW1_X, 262), (ROW2, ROW2_X, 316), (ROW3, ROW3_X, 367), (ROW4, ROW4_X, 418)]:
    for i, (wd, xp) in enumerate(zip(words, xs)):
        color, weight, size, yy = 'k', 'normal', 26, y
        if y == 367 and i == 5:
            color, weight = RED, 'bold'
        if y == 418 and wd in ('W', '*') and i in (5, 16):
            color = RED
        if wd == '*':
            weight, size, yy = 'bold', 38, y + 6
        px_text(xp, yy, wd, size, color=color, fontweight=weight)

# ---- panel B
px_text(19, 506, 'B', 40)
flow_panel((194, 629, 509, 944), 'wt (4m)', 411, 480, B_XT, [18.9, 46.5, 69.1, 91.2], FLOW_LABELS, FLOW_LABELS, 46.2, 46.1, 3.0,
           ['3.74', '49.1', '44.9', '2.25'], B1_POPS, cloud=B1_CLOUD)
flow_panel((778, 1214, 517, 952), ASXL + ' (4m)', 970, 484, B_XT, [18.9, 46.4, 69, 90.8], FLOW_LABELS, FLOW_LABELS, 46, 46.1, 3.0,
           ['4.68', '55.5', '36.0', '3.79'], B2_POPS, cloud=B2_CLOUD)
flow_panel((192, 629, 1069, 1504), 'wt (18m)', 399, 1034, [14, 40.5, 65.5, 89.9], [15, 44.4, 66.6, 88.6], FLOW_LABELS, FLOW_LABELS, 48.5, 46.4, 1.8,
           ['7.49', '63.8', '25.1', '3.59'], B3_POPS, blobs=B3_BLOBS, cloud=B3_CLOUD, zero_label=10)
flow_panel((776, 1214, 1069, 1504), ASXL + ' (18m)', 957, 1034, [12, 40.5, 65.5, 89.9], [15, 44.4, 66.6, 88.6], FLOW_LABELS, FLOW_LABELS, 48.5, 46.4, 1.8,
           ['4.69', '84.6', '8.22', '2.49'], B4_POPS, cloud=B4_CLOUD, zero_label=11)
px_arrow((100, 1478), (100, 1170))
px_text(68, 1321, 'Gr1', 31, rotation=90)
px_arrow((196, 1572), (706, 1572))
px_text(715, 1572, 'CD11b', 29, ha='left')

# ---- panel D
px_text(21, 1667, 'D', 40)
D_TAGS = [('MPP', 32.6, 95, 'center'), ('ST-HSC', 1, 37.8, 'left'), ('LT-HSC', 97.3, 37.8, 'right')]
flow_panel((192, 628, 1670, 2105), 'wt (4m)', 353, 1629, [2.6, 21.2, 40.5, 66.3, 89.9], [1.3, 19.3, 35, 63.3, 89.1], NEG_LABELS, NEG_LABELS, 48.7, 43.4, 3.0,
           ['67.8', '4.21', '16.5', '11.5'], D1_POPS, blobs=D1_BLOBS, dots=D1_DOTS, tags=D_TAGS)
flow_panel((767, 1203, 1670, 2105), ASXL + ' (4m)', 955, 1633, [2.6, 21, 41.2, 66.5, 90], [1.3, 19.3, 35, 63.3, 89.1], NEG_LABELS, NEG_LABELS, 48.7, 43.4, 3.0,
           ['66.2', '1.80', '23.4', '8.56'], D2_POPS, blobs=D2_BLOBS, dots=D2_DOTS)
flow_panel((181, 635, 2227, 2677), 'wt (18m)', 335, 2195, [5.3, 21.3, 38, 64.9, 89.6], [17.8, 39.9, 65.9, 89.7], NEG_LABELS, FLOW_LABELS, 45.9, 48, 1.8,
           ['73.9', '9.93', '6.32', '9.84'], D3_POPS, blobs=D3_BLOBS, dots=D3_DOTS,
           tags=[('MPP', 31.6, 94.5, 'center'), ('ST-HSC', 1.4, 42.5, 'left'), ('LT-HSC', 97.7, 42, 'right')])
flow_panel((757, 1214, 2227, 2682), ASXL + ' (18m)', 937, 2195, [5, 21, 38, 64.6, 89.5], [18.2, 39.6, 65.9, 89.8], NEG_LABELS, FLOW_LABELS, 46, 48, 2.2,
           ['44.4', '4.40', '16.4', '34.8'], D4_POPS, blobs=D4_BLOBS, dots=D4_DOTS)
px_arrow((100, 2651), (100, 2343))
px_text(65, 2474, 'CD48', 28.5, rotation=90)
px_arrow((209, 2762), (719, 2762))
px_text(727, 2762, 'CD150', 29, ha='left')

# ---- panel C
px_text(1296, 510, 'C', 40)
ax = bar_panel((1468, 1886, 520, 939), 80, [0, 20, 40, 60, 80], .187, C4_WT, C4_WT_ERR, C4_WT_PTS, C4_WT_DX, C4_MUT, C4_MUT_ERR,
               C4_MUT_PTS, C4_MUT_DX, (-.433, 2.44), .21, 12, 24)
sig(ax, -.27, .29, 8.6, 'ns', 0, 12.9)
sig(ax, .73, 1.29, 60.2, 'ns', 1, 64.2)
sig(ax, 1.73, 2.29, 9.7, 'ns', 2, 13.7)
ax.text(.89, 83.4, '4 months', ha='center', va='center', fontsize=25.5, clip_on=False)
px_text(1370, 732, 'Cell frequency (%)', 25, rotation=90)
ax = bar_panel((1468, 1875, 939, 1461), 127.9, [0, 20, 40, 60, 80, 100], .187, C18_WT, C18_WT_ERR, C18_WT_PTS, C18_WT_DX, C18_MUT, C18_MUT_ERR,
               C18_MUT_PTS, C18_MUT_DX, (-.43, 2.437), .21, 12, 24, cats=C_CATS, cat_fs=22, cat_rot=45)
sig(ax, -.26, .31, 12.8, 'ns', .02, 18.2)
sig(ax, .725, 1.296, 92.5, r'$\mathit{P}$=0.016', 1.03, 98.4, 25.5)
sig(ax, 1.72, 2.29, 8.1, 'ns', 2, 13.6)
ax.text(.845, 107.6, '18 months', ha='center', va='center', fontsize=25.5, clip_on=False)
px_text(1370, 1254, 'Cell frequency (%)', 25, rotation=90)
legend_box(1821, 1868, 500, 526, 'k', 'WT', 512)
legend_box(1821, 1868, 558, 584, RED, ASXL, 570, style='italic')

# ---- panel E
px_text(1296, 1667, 'E', 40)
ax = bar_panel((1427, 1885, 1695, 2155.5), 80, [0, 20, 40, 60, 80], .19, E4_WT, E4_WT_ERR, E4_WT_PTS, E4_WT_DX, E4_MUT, E4_MUT_ERR,
               E4_MUT_PTS, E4_MUT_DX, (-.425, 2.4375), .216, 13, 26.5)
sig(ax, -.244, .256, 79.7, 'ns', 0, 83.4)
sig(ax, .756, 1.256, 32.7, 'ns', 1, 36.4)
sig(ax, 1.756, 2.256, 15.3, 'ns', 2, 19)
ax.text(1.215, 82.1, '4 months', ha='center', va='center', fontsize=29, clip_on=False)
px_text(1329, 1933, 'Cell frequency (%)', 27, rotation=90)
ax = bar_panel((1428, 1875, 2155.5, 2708.5), 99.1, [0, 20, 40, 60, 80], .186, E18_WT, E18_WT_ERR, E18_WT_PTS, E18_WT_DX, E18_MUT, E18_MUT_ERR,
               E18_MUT_PTS, E18_MUT_DX, (-.429, 2.436), .215, 13, 23.5, cats=E_CATS)
sig(ax, -.3, .314, 79.4, r'$\mathit{P}$=0.023', .115, 83.5, 26)
sig(ax, .763, 1.38, 29.3, r'$\mathit{P}$=0.07', 1.186, 33.9, 26)
sig(ax, 1.737, 2.35, 48.3, r'$\mathit{P}$=0.02', 2.167, 52.3, 26)
ax.text(1.068, 75.6, '18 months', ha='center', va='center', fontsize=26, clip_on=False)
px_text(1334, 2512, 'Cell frequency (%)', 22.6, rotation=90)
legend_box(1815, 1866, 1716, 1743, 'k', 'WT', 1729)
legend_box(1815, 1866, 1780, 1808, RED, ASXL, 1795, style='italic')

fig.savefig('out.png', dpi=100)
